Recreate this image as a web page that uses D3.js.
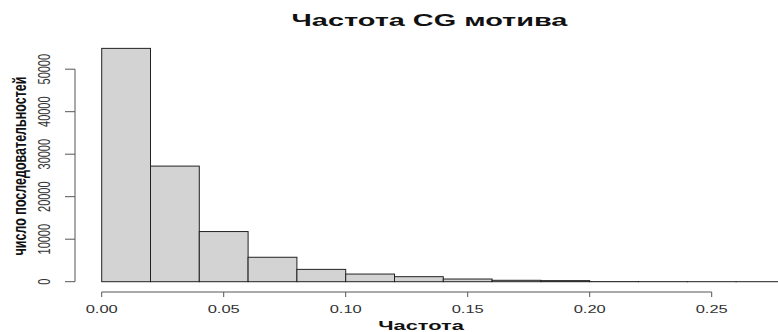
<!DOCTYPE html>
<html>
<head>
<meta charset="utf-8">
<script src="https://cdn.jsdelivr.net/npm/d3@7"></script>
<style>
  body { margin: 0; background: #fff; }
  text { font-family: "Liberation Sans", Arial, sans-serif; }
</style>
</head>
<body>
<div id="chart"></div>
<script>
// histogram of CG motif frequency
const binEdges = [0, 0.02, 0.04, 0.06, 0.08, 0.10, 0.12, 0.14, 0.16, 0.18, 0.20, 0.22, 0.24, 0.26, 0.28];
const counts = [54900, 27200, 11800, 5750, 2900, 1800, 1180, 630, 330, 250, 25, 10, 4, 2];
const xTicks = [0, 0.05, 0.10, 0.15, 0.20, 0.25];
const yTicks = [0, 10000, 20000, 30000, 40000, 50000];

const width = 778, height = 332;
const stretch = 1.5; // the picture is stretched horizontally, text too

const svg = d3.select('#chart').append('svg')
    .attr('width', width)
    .attr('height', height);

const x = d3.scaleLinear().domain([0, 0.25]).range([101.7, 711.7]);
const y = d3.scaleLinear().domain([0, 50000]).range([281.7, 69.2]);

const bins = counts.map((c, i) => ({ x0: binEdges[i], x1: binEdges[i + 1], n: c }));

svg.append('g')
    .selectAll('rect')
    .data(bins)
    .enter().append('rect')
    .attr('x', d => x(d.x0))
    .attr('y', d => y(d.n))
    .attr('width', d => x(d.x1) - x(d.x0))
    .attr('height', d => y(0) - y(d.n))
    .attr('fill', '#d3d3d3')
    .attr('stroke', '#222')
    .attr('stroke-width', 1);

// x axis, R style: line from first to last tick
const xAxisY = 292;
const gx = svg.append('g').attr('stroke', '#555').attr('stroke-width', 1);
gx.append('line')
    .attr('x1', x(xTicks[0])).attr('x2', x(xTicks[xTicks.length - 1]))
    .attr('y1', xAxisY).attr('y2', xAxisY);
gx.selectAll('.tick')
    .data(xTicks)
    .enter().append('line')
    .attr('x1', d => x(d)).attr('x2', d => x(d))
    .attr('y1', xAxisY).attr('y2', xAxisY + 5);
svg.append('g')
    .selectAll('text')
    .data(xTicks)
    .enter().append('text')
    .attr('transform', d => `translate(${x(d)},312.5) scale(${stretch},1)`)
    .attr('text-anchor', 'middle')
    .attr('font-size', 11)
    .attr('fill', '#333')
    .text(d => d3.format('.2f')(d));

// y axis
const yAxisX = 75;
const gy = svg.append('g').attr('stroke', '#555').attr('stroke-width', 1);
gy.append('line')
    .attr('x1', yAxisX).attr('x2', yAxisX)
    .attr('y1', y(yTicks[0])).attr('y2', y(yTicks[yTicks.length - 1]));
gy.selectAll('.tick')
    .data(yTicks)
    .enter().append('line')
    .attr('x1', yAxisX - 10).attr('x2', yAxisX)
    .attr('y1', d => y(d)).attr('y2', d => y(d));
svg.append('g')
    .selectAll('text')
    .data(yTicks)
    .enter().append('text')
    .attr('transform', d => `translate(50,${y(d)}) scale(${stretch},1) rotate(-90)`)
    .attr('text-anchor', 'middle')
    .attr('font-size', 11)
    .attr('fill', '#333')
    .text(d => d);

// titles
svg.append('text')
    .attr('transform', `translate(429.5,26) scale(1.7,1)`)
    .attr('text-anchor', 'middle')
    .attr('font-size', 17)
    .attr('font-weight', 'bold')
    .attr('fill', '#111')
    .text('Частота CG мотива');

svg.append('text')
    .attr('transform', `translate(421,329.5) scale(1.68,1)`)
    .attr('text-anchor', 'middle')
    .attr('font-size', 13)
    .attr('font-weight', 'bold')
    .attr('fill', '#111')
    .text('Частота');

svg.append('text')
    .attr('transform', `translate(26,166) scale(${stretch},1) rotate(-90)`)
    .attr('text-anchor', 'middle')
    .attr('font-size', 12.5)
    .attr('font-weight', 'bold')
    .attr('fill', '#111')
    .text('число последовательностей');
</script>
</body>
</html>
